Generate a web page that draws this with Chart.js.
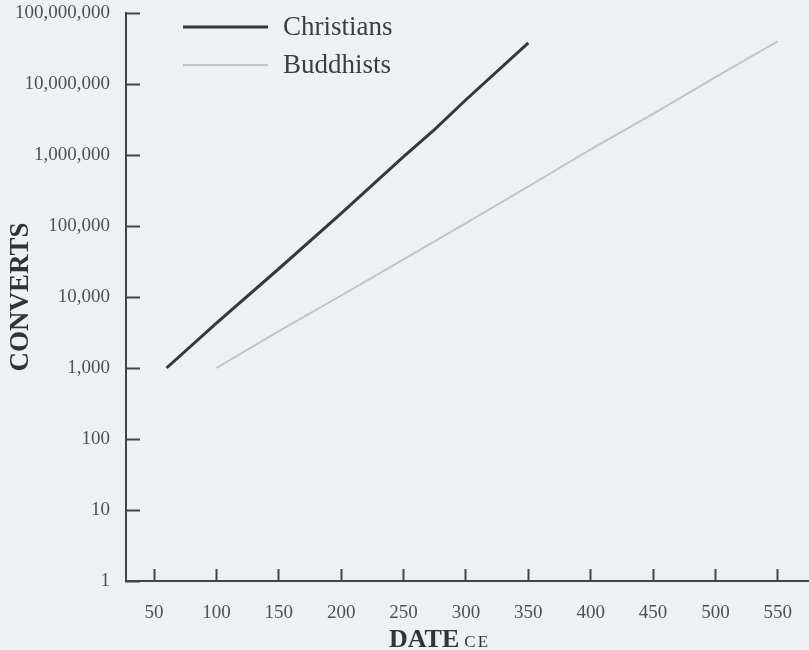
<!DOCTYPE html>
<html>
<head>
<meta charset="utf-8">
<script src="https://cdn.jsdelivr.net/npm/chart.js@4/dist/chart.umd.min.js"></script>
<style>
  html, body { margin: 0; padding: 0; background: #eef1f4; }
  #wrap { width: 809px; height: 650px; }
</style>
</head>
<body>
<div id="wrap"><canvas id="c"></canvas></div>
<script>
// values
const christianYears = [60, 100, 150, 200, 250, 275, 300, 350];
const christianConverts = [1000, 4300, 25000, 150000, 950000, 2300000, 6000000, 38000000];
const buddhistYears = [100, 150, 200, 250, 300, 350, 400, 450, 500, 550];
const buddhistConverts = [1000, 3300, 10500, 34000, 110000, 360000, 1200000, 3800000, 12500000, 40000000];
const yearTicks = [50, 100, 150, 200, 250, 300, 350, 400, 450, 500, 550];
const convertTicks = [1, 10, 100, 1000, 10000, 100000, 1000000, 10000000, 100000000];

const serif = "'Liberation Serif', 'DejaVu Serif', serif";
const inkColor = '#505050';

function toPoints(xs, ys) {
    return xs.map((x, i) => ({ x: x, y: ys[i] }));
}

// legend drawn inside the plot, top-left, and the "DATE ce" axis title
const decorations = {
    id: 'decorations',
    afterDraw(chart) {
        const ctx = chart.ctx;
        const area = chart.chartArea;
        ctx.save();
        // legend
        let y = area.top + 14;
        chart.data.datasets.forEach(ds => {
            ctx.strokeStyle = ds.borderColor;
            ctx.lineWidth = ds.borderWidth;
            ctx.beginPath();
            ctx.moveTo(area.left + 57, y);
            ctx.lineTo(area.left + 142, y);
            ctx.stroke();
            ctx.fillStyle = '#3e3e3e';
            ctx.font = '27px ' + serif;
            ctx.textBaseline = 'middle';
            ctx.textAlign = 'left';
            ctx.fillText(ds.label, area.left + 157, y + 1);
            y += 38;
        });
        // x axis title
        const xs = chart.scales.x;
        ctx.fillStyle = '#333';
        ctx.textBaseline = 'alphabetic';
        ctx.font = 'bold 26px ' + serif;
        const x0 = xs.left + 263;
        ctx.fillText('DATE', x0, xs.bottom - 3);
        const w = ctx.measureText('DATE').width;
        ctx.font = '17px ' + serif;
        ctx.letterSpacing = '2px';
        ctx.fillText('CE', x0 + w + 5, xs.bottom - 3);
        ctx.restore();
    }
};

new Chart(document.getElementById('c'), {
    type: 'line',
    data: {
        datasets: [{
            label: 'Christians',
            data: toPoints(christianYears, christianConverts),
            borderColor: '#383838',
            borderWidth: 3,
            pointRadius: 0,
            tension: 0
        }, {
            label: 'Buddhists',
            data: toPoints(buddhistYears, buddhistConverts),
            borderColor: '#c6c2c2',
            borderWidth: 2,
            pointRadius: 0,
            tension: 0
        }]
    },
    options: {
        responsive: true,
        maintainAspectRatio: false,
        animation: false,
        layout: { padding: { top: 13, right: 0, left: 0, bottom: 0 } },
        plugins: {
            legend: { display: false },
            tooltip: { enabled: false }
        },
        scales: {
            x: {
                type: 'linear',
                min: 27.5,
                max: 575,
                afterFit: s => { s.height = 69; s.paddingLeft = 0; s.paddingRight = 0; },
                afterBuildTicks: s => { s.ticks = yearTicks.map(v => ({ value: v })); },
                border: { color: '#444', width: 2 },
                grid: { drawOnChartArea: false, tickLength: -12, tickColor: '#444', tickWidth: 2 },
                ticks: {
                    color: inkColor,
                    font: { family: serif, size: 19 },
                    padding: 33,
                    maxRotation: 0
                }
            },
            y: {
                type: 'logarithmic',
                min: 1,
                max: 100000000,
                afterFit: s => { s.width = 126; s.paddingTop = 0; s.paddingBottom = 0; },
                afterBuildTicks: s => { s.ticks = convertTicks.map(v => ({ value: v })); },
                border: { color: '#444', width: 2 },
                grid: { drawOnChartArea: false, tickLength: -14, tickColor: '#444', tickWidth: 2 },
                ticks: {
                    color: inkColor,
                    font: { family: serif, size: 19 },
                    padding: 30,
                    callback: v => Number(v).toLocaleString('en-US')
                },
                title: {
                    display: true,
                    text: 'CONVERTS',
                    color: '#333',
                    font: { family: serif, size: 27, weight: 'bold' },
                    padding: { top: 5, bottom: 0 }
                }
            }
        }
    },
    plugins: [decorations]
});
</script>
</body>
</html>
